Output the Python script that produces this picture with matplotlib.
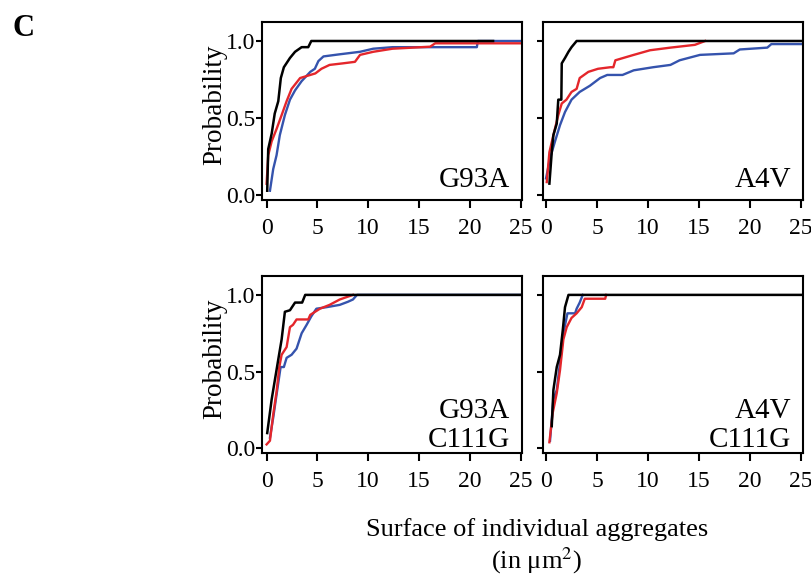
import matplotlib
matplotlib.use("Agg")
import matplotlib.pyplot as plt

plt.rcParams['font.family'] = ['Liberation Serif', 'DejaVu Serif']
plt.rcParams['mathtext.fontset'] = 'stix'

RED = '#e4262b'
BLUE = '#3553ad'
BLACK = 'black'

# G93A
g93a_black_x = [0.06, 0.16, 0.5, 0.8, 1.15, 1.4, 1.7, 2.3, 2.8, 3.45, 4.1, 4.4, 22.3]
g93a_black_p = [0.03, 0.30, 0.40, 0.53, 0.61, 0.76, 0.83, 0.89, 0.93, 0.96, 0.96, 1.0, 1.0]
g93a_red_x = [0.0, 0.16, 0.5, 0.98, 1.48, 1.97, 2.46, 3.3, 4.3, 4.8, 5.4, 6.2, 7.5, 8.7,
              9.2, 10.5, 12.4, 16.1, 16.6, 25]
g93a_red_p = [0.075, 0.26, 0.35, 0.43, 0.52, 0.61, 0.69, 0.76, 0.78, 0.79, 0.82, 0.845, 0.855,
              0.865, 0.91, 0.93, 0.95, 0.963, 0.985, 0.985]
g93a_blue_x = [0.33, 0.65, 0.98, 1.3, 1.8, 2.3, 2.8, 3.45, 4.3, 4.75, 5.1, 5.6, 7.1, 9.2,
               10.5, 12.4, 20.7, 20.8, 25]
g93a_blue_p = [0.03, 0.17, 0.26, 0.39, 0.52, 0.62, 0.68, 0.74, 0.80, 0.82, 0.87, 0.90, 0.913,
               0.93, 0.95, 0.96, 0.96, 1.0, 1.0]

# A4V
a4v_black_x = [0.33, 0.56, 0.72, 1.05, 1.2, 1.5, 1.54, 1.86, 2.2, 2.5, 3.0, 25]
a4v_black_p = [0.076, 0.28, 0.39, 0.465, 0.62, 0.62, 0.855, 0.89, 0.93, 0.96, 1.0, 1.0]
a4v_red_x = [0.07, 0.33, 0.72, 1.2, 1.54, 2.0, 2.5, 3.0, 3.3, 4.15, 5.1, 6.3, 6.6, 6.8, 8.6,
             10.2, 12.2, 14.6, 15.4, 15.6]
a4v_red_p = [0.086, 0.28, 0.39, 0.52, 0.595, 0.62, 0.67, 0.69, 0.76, 0.80, 0.82, 0.83, 0.83,
             0.875, 0.91, 0.94, 0.957, 0.975, 0.995, 1.0]
a4v_blue_x = [0.0, 0.39, 0.88, 1.37, 1.86, 2.5, 3.3, 4.3, 5.3, 6.0, 7.5, 8.6, 10.5, 12.2,
              13.1, 15.1, 18.4, 19.0, 21.7, 22.1, 25]
a4v_blue_p = [0.11, 0.24, 0.35, 0.455, 0.54, 0.62, 0.67, 0.71, 0.76, 0.78, 0.78, 0.81, 0.83,
              0.845, 0.875, 0.91, 0.92, 0.945, 0.957, 0.98, 0.98]

# G93A C111G
g93a_c_black_x = [0.06, 0.5, 0.8, 1.15, 1.48, 1.8, 2.3, 2.8, 3.5, 3.8, 25]
g93a_c_black_p = [0.10, 0.32, 0.44, 0.58, 0.71, 0.89, 0.90, 0.95, 0.95, 1.0, 1.0]
g93a_c_red_x = [0.0, 0.33, 0.65, 0.98, 1.25, 1.48, 1.97, 2.3, 2.6, 2.95, 4.1, 4.3, 5.25,
                6.2, 7.2, 8.5]
g93a_c_red_p = [0.026, 0.05, 0.22, 0.37, 0.53, 0.61, 0.66, 0.79, 0.805, 0.84, 0.84, 0.87,
                0.91, 0.935, 0.97, 1.0]
g93a_c_blue_x = [0.33, 0.65, 0.98, 1.38, 1.7, 1.97, 2.46, 2.95, 3.45, 3.94, 4.4, 4.9, 5.9,
                 7.2, 8.0, 8.5, 8.9, 25]
g93a_c_blue_p = [0.07, 0.20, 0.35, 0.53, 0.53, 0.59, 0.61, 0.65, 0.75, 0.805, 0.86, 0.91,
                 0.92, 0.935, 0.955, 0.97, 1.0, 1.0]

# A4V C111G
a4v_c_black_x = [0.56, 0.72, 1.05, 1.37, 1.64, 1.86, 2.2, 25]
a4v_c_black_p = [0.145, 0.38, 0.53, 0.61, 0.77, 0.92, 1.0, 1.0]
a4v_c_red_x = [0.33, 0.65, 1.05, 1.37, 1.7, 2.03, 2.5, 3.0, 3.5, 3.8, 5.8, 5.9]
a4v_c_red_p = [0.04, 0.23, 0.36, 0.51, 0.71, 0.79, 0.85, 0.88, 0.92, 0.975, 0.975, 1.0]
a4v_c_blue_x = [0.39, 0.72, 1.05, 1.37, 1.7, 2.1, 2.85, 3.0, 3.3, 3.6]
a4v_c_blue_p = [0.05, 0.32, 0.38, 0.56, 0.75, 0.88, 0.88, 0.91, 0.95, 1.0]

panels = [
    ('G93A', [0.3227, 0.6546, 0.3202, 0.3074], (-0.45, 25.15), True, 0.074,
     (g93a_blue_x, g93a_blue_p), (g93a_red_x, g93a_red_p), (g93a_black_x, g93a_black_p)),
    ('A4V', [0.6687, 0.6546, 0.3202, 0.3074], (-0.3, 25.2), False, 0.074,
     (a4v_blue_x, a4v_blue_p), (a4v_red_x, a4v_red_p), (a4v_black_x, a4v_black_p)),
    ('G93A\nC111G', [0.3227, 0.2176, 0.3202, 0.3057], (-0.45, 25.15), True, 0.036,
     (g93a_c_blue_x, g93a_c_blue_p), (g93a_c_red_x, g93a_c_red_p),
     (g93a_c_black_x, g93a_c_black_p)),
    ('A4V\nC111G', [0.6687, 0.2176, 0.3202, 0.3057], (-0.3, 25.2), False, 0.036,
     (a4v_c_blue_x, a4v_c_blue_p), (a4v_c_red_x, a4v_c_red_p),
     (a4v_c_black_x, a4v_c_black_p)),
]

fig = plt.figure(figsize=(8.12, 5.79), dpi=100)

for name, rect, xlim, show_y, ty, blue, red, black in panels:
    ax = fig.add_axes(rect)
    ax.plot(*blue, c=BLUE, lw=1.7)
    ax.plot(*red, c=RED, lw=1.7)
    ax.plot(*black, c=BLACK, lw=1.8)
    ax.set_xlim(xlim)
    ax.set_ylim(-0.03, 1.123)
    ax.set_xticks([0, 5, 10, 15, 20, 25])
    ax.set_yticks([0.0, 0.5, 1.0])
    if show_y:
        ax.set_yticklabels(['0.0', '0.5', '1.0'])
        ax.set_ylabel('Probability', fontsize=19.5)
        ax.yaxis.set_label_coords(-0.135, 0.535)
    else:
        ax.set_yticklabels([])
    for s in ax.spines.values():
        s.set_linewidth(1.5)
    ax.tick_params(axis='x', direction='out', length=6, width=1.5, pad=7, labelsize=17)
    ax.tick_params(axis='y', direction='out', length=4, width=1.5, pad=1, labelsize=17)
    ax.text(0.955, ty, name, transform=ax.transAxes, ha='right', va='baseline',
            multialignment='right', fontsize=21, linespacing=1.15)

fig.text(0.015, 0.95, 'C', fontsize=22, fontweight='bold', ha='left', va='center')
fig.text(0.661, 0.086, 'Surface of individual aggregates', fontsize=19, ha='center', va='center')
fig.text(0.661, 0.031, '(in μm$^2$)', fontsize=19, ha='center', va='center')

fig.savefig('out.png', dpi=100)
